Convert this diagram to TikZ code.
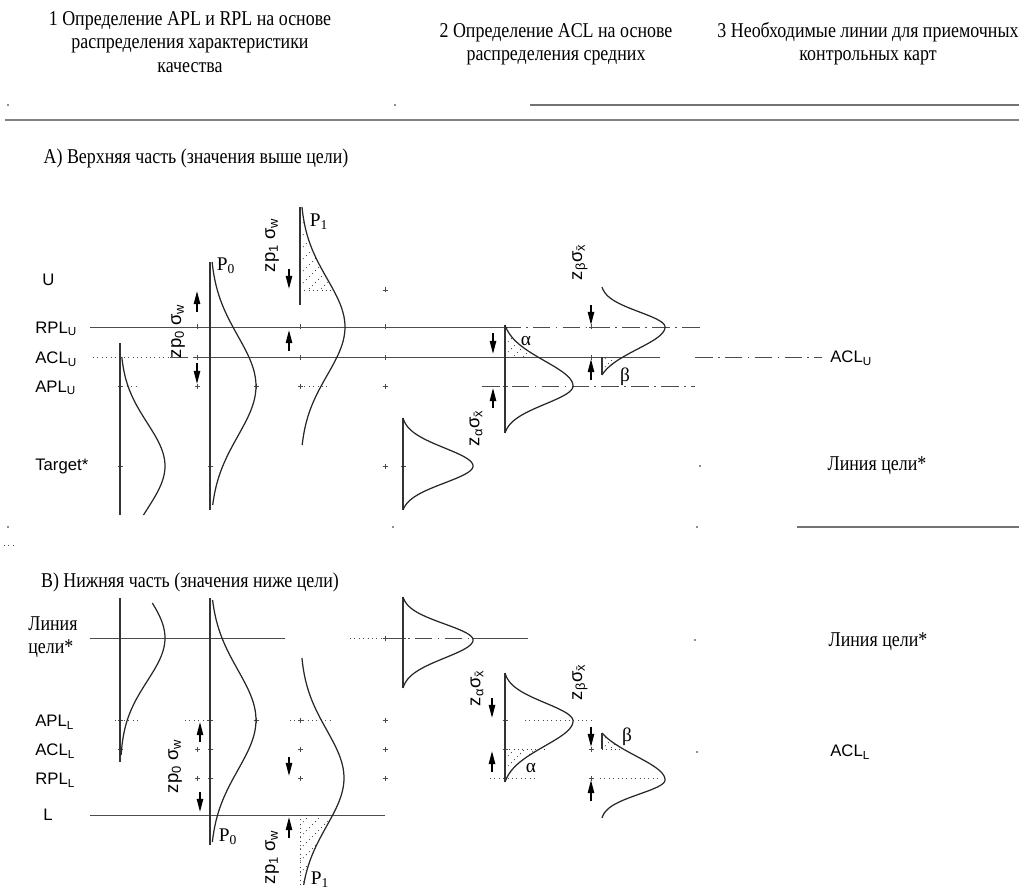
\documentclass[tikz,border=0pt]{standalone}
\usepackage{fontspec}
\setmainfont{Liberation Serif}
\setsansfont{Liberation Sans}
\newfontfamily\scanrm[FakeStretch=0.85]{Liberation Serif}
\usetikzlibrary{arrows.meta}

\begin{document}
\begin{tikzpicture}[x=0.02cm,y=-0.02cm,>=Stealth,samples=60,
  curve/.style={line width=0.7pt,black!85},
  axisline/.style={line width=0.6pt,black!80},
  level/.style={line width=0.5pt,black!70},
  dashdot/.style={level,dash pattern=on 10pt off 3pt on 1pt off 3pt},
  dotline/.style={level,dotted},
  hatch/.style={line width=0.45pt,dotted,black!75},
  dimarr/.style={-{Triangle[length=7.5pt,width=3.6pt]},line width=1pt},
  head/.style={font=\scanrm\fontsize{12}{13.2}\selectfont,align=center,inner sep=0pt},
  lab/.style={font=\sffamily\fontsize{9.5}{11}\selectfont,anchor=west,inner sep=0pt},
  rot/.style={font=\sffamily\fontsize{10.5}{12}\selectfont,rotate=90,inner sep=0pt},
  greek/.style={font=\fontsize{11}{12}\selectfont,inner sep=0pt},
  declare function={bell(\t,\m,\sg)=exp(-0.5*((\t-\m)/\sg)^2);
    tb(\t,\m,\sg,\dl)=(bell(\t,\m,\sg)-bell(\m+\dl,\m,\sg))/(1-bell(\m+\dl,\m,\sg));}]
\useasboundingbox (0,0) rectangle (1019,892);

\node[head] (colA) at (190,42) {1 Определение APL и RPL на основе\\распределения характеристики\\качества};
\node[head] (colB) at (556,44) {2 Определение ACL на основе\\распределения средних};
\node[head] (colC) at (868,44) {3 Необходимые линии для приемочных\\контрольных карт};
\coordinate (ruleAa) at (530,105);
\coordinate (ruleAb) at (1019,105);
\coordinate (ruleBa) at (5,120);
\coordinate (ruleBb) at (1019,120);
\draw[black!55,line width=0.6pt] (ruleAa) -- (ruleAb);
\draw[black!50,line width=1.3pt] (ruleBa) -- (ruleBb);
\foreach \px/\py in {8/105,395/105,8/527,393/527,697/527,700/466,695/640,697/752}
  \fill[black!60] (\px,\py) circle[radius=1.1];
\draw[dotline] (4,545) -- (14,545);
\coordinate (ruleCa) at (797,527);
\coordinate (ruleCb) at (1019,527);
\draw[black!55,line width=0.8pt] (ruleCa) -- (ruleCb);

\node[head] (secA) at (196,158) {А) Верхняя часть (значения выше цели)};
\node[head] (secB) at (190,582) {В) Нижняя часть (значения ниже цели)};

\node[lab] (labU) at (42,280) {U};
\node[lab] (labRPLu) at (35,329) {RPL\textsubscript{U}};
\node[lab] (labACLu) at (35,359) {ACL\textsubscript{U}};
\node[lab] (labAPLu) at (35,388) {APL\textsubscript{U}};
\node[lab] (labTgtU) at (35,466) {Target*};
\node[head,anchor=west,align=left] (labTgtL) at (28,637) {Линия\\цели*};
\node[lab] (labAPLl) at (35,722) {APL\textsubscript{L}};
\node[lab] (labACLl) at (35,751) {ACL\textsubscript{L}};
\node[lab] (labRPLl) at (35,780) {RPL\textsubscript{L}};
\node[lab] (labL) at (43,815) {L};
\node[lab] (rACLu) at (830,358) {ACL\textsubscript{U}};
\node[head] (rTgtU) at (877,466) {Линия цели*};
\node[head] (rTgtL) at (878,642) {Линия цели*};
\node[lab] (rACLl) at (830,752) {ACL\textsubscript{L}};

\coordinate (rplUa) at (90,327);
\coordinate (rplUb) at (503,327);
\coordinate (rplUc) at (700,327);
\draw[level] (rplUa) -- (rplUb);
\draw[dashdot] (rplUb) -- (rplUc);
\coordinate (aclUa) at (93,357);
\coordinate (aclUb) at (170,357);
\coordinate (aclUc) at (215,357);
\coordinate (aclUd) at (660,357);
\coordinate (aclUe) at (695,357);
\coordinate (aclUf) at (822,357);
\draw[dotline] (aclUa) -- (aclUb);
\draw[dashdot] (aclUb) -- (aclUc);
\draw[level] (aclUc) -- (aclUd);
\draw[dashdot] (aclUe) -- (aclUf);
\coordinate (aplUa) at (482,386);
\coordinate (aplUb) at (695,386);
\draw[dashdot] (aplUa) -- (aplUb);
\draw[dotline] (118,386) -- (137,386) (300,386) -- (330,386);

\coordinate (tgtLa) at (90,638);
\coordinate (tgtLb) at (285,638);
\coordinate (tgtLc) at (350,638);
\coordinate (tgtLd) at (385,638);
\coordinate (tgtLe) at (473,638);
\coordinate (tgtLf) at (528,638);
\draw[level] (tgtLa) -- (tgtLb);
\draw[dotline] (tgtLc) -- (tgtLd);
\draw[dashdot] (tgtLd) -- (tgtLe);
\draw[level] (tgtLe) -- (tgtLf);
\draw[dotline] (115,720) -- (137,720) (185,720) -- (215,720) (290,720) -- (330,720) (525,720) -- (592,720);
\draw[dotline] (490,778) -- (537,778) (600,778) -- (660,778);
\coordinate (lLa) at (90,815);
\coordinate (lLb) at (385,815);
\draw[level] (lLa) -- (lLb);

\foreach \px/\py in {197/327,197/357,197/386,210/327,210/357,210/466,120/386,120/466,256/386,
  300/327,300/357,300/386,385/290,385/327,385/357,385/386,385/466,403/466,505/357,505/386,591/327,591/357,
  120/638,120/720,120/749,197/749,197/778,210/638,210/720,210/749,210/778,256/720,
  300/720,300/749,300/778,385/638,385/720,385/749,385/778,403/638,505/720,505/749,591/749,591/778}
  \draw[level] (\px-2.5,\py) -- (\px+2.5,\py) (\px,\py-2.5) -- (\px,\py+2.5);

\draw[axisline] (120,343) -- (120,515);
\draw[curve] plot[domain=357:515] ({120+45*bell(\x,466,43)},\x);
\draw[axisline] (210,262) -- (210,510);
\draw[curve] plot[domain=262:505] ({210+46*bell(\x,386,50)},\x);
\draw[axisline] (300,207) -- (300,305);
\draw[curve] plot[domain=207:445] ({300+45*bell(\x,327,48)},\x);
\begin{scope}
\clip (300,207) -- plot[domain=207:290] ({300+45*bell(\x,327,48)},\x) -- (300,290) -- cycle;
\foreach \k in {226,238,...,346} \draw[hatch] (300,\k) -- ++(60,-60);
\end{scope}
\draw[hatch] (300,290) -- (333,290);
\draw[axisline] (403,418) -- (403,510);
\draw[curve] plot[domain=418:466] ({403+70*tb(\x,466,18,48)},\x) -- plot[domain=466:510] ({403+70*tb(\x,466,17,44)},\x);
\draw[axisline] (505,325) -- (505,433);
\draw[curve] plot[domain=325:386] ({505+68*tb(\x,386,25,61)},\x) -- plot[domain=386:433] ({505+68*tb(\x,386,18,47)},\x);
\begin{scope}
\clip (505,325) -- plot[domain=325:357] ({505+68*tb(\x,386,25,61)},\x) -- (505,357) -- cycle;
\foreach \k in {335,345,...,395} \draw[hatch] (505,\k) -- ++(40,-40);
\end{scope}
\draw[curve] plot[domain=287:327] ({602+63*tb(\x,327,15,40)},\x) -- plot[domain=327:375] ({602+63*tb(\x,327,22,48)},\x);
\draw[axisline] (602,357) -- (602,375);
\begin{scope}
\clip (602,357) -- plot[domain=357:375] ({602+63*tb(\x,327,22,48)},\x) -- cycle;
\foreach \k in {362,370,...,394} \draw[hatch] (602,\k) -- ++(30,-30);
\end{scope}

\draw[axisline] (120,598) -- (120,762);
\draw[curve] plot[domain=603:755] ({120+45*bell(\x,638,43)},\x);
\draw[axisline] (210,598) -- (210,845);
\draw[curve] plot[domain=600:842] ({210+46*bell(\x,720,50)},\x);
\draw[curve] plot[domain=658:885] ({300+44*bell(\x,778,48)},\x);
\begin{scope}
\clip (300,815) -- plot[domain=815:885] ({300+44*bell(\x,778,48)},\x) -- (300,885) -- cycle;
\foreach \k in {825,837,...,945} \draw[hatch] (300,\k) -- ++(60,-60);
\end{scope}
\draw[hatch] (300,815) -- (300,885);
\draw[axisline] (403,597) -- (403,688);
\draw[curve] plot[domain=597:640] ({403+70*tb(\x,640,16,43)},\x) -- plot[domain=640:688] ({403+70*tb(\x,640,18,48)},\x);
\draw[axisline] (505,673) -- (505,782);
\draw[curve] plot[domain=673:721] ({505+68*tb(\x,721,18,48)},\x) -- plot[domain=721:782] ({505+68*tb(\x,721,25,61)},\x);
\begin{scope}
\clip (505,749) -- plot[domain=749:782] ({505+68*tb(\x,721,25,61)},\x) -- cycle;
\foreach \k in {759,769,...,829} \draw[hatch] (505,\k) -- ++(40,-40);
\end{scope}
\draw[hatch] (505,749) -- (545,749);
\draw[curve] plot[domain=733:780] ({602+63*tb(\x,780,24,47)},\x) -- plot[domain=780:818] ({602+63*tb(\x,780,14,38)},\x);
\draw[axisline] (602,733) -- (602,749);
\begin{scope}
\clip (602,733) -- plot[domain=733:749] ({602+63*tb(\x,780,24,47)},\x) -- (602,749) -- cycle;
\foreach \k in {741,749,...,773} \draw[hatch] (602,\k) -- ++(30,-30);
\end{scope}
\draw[hatch] (602,749) -- (625,749);

\draw[dimarr] (197,312) -- (197,291);
\draw[dimarr] (197,363) -- (197,384);
\draw[dimarr] (289,269) -- (289,289);
\draw[dimarr] (289,351) -- (289,330);
\draw[dimarr] (493,333) -- (493,354);
\draw[dimarr] (493,408) -- (493,388);
\draw[dimarr] (591,305) -- (591,325);
\draw[dimarr] (591,380) -- (591,359);
\draw[dimarr] (200,742) -- (200,722);
\draw[dimarr] (200,792) -- (200,812);
\draw[dimarr] (289,757) -- (289,776);
\draw[dimarr] (289,838) -- (289,817);
\draw[dimarr] (492,698) -- (492,718);
\draw[dimarr] (492,772) -- (492,751);
\draw[dimarr] (591,727) -- (591,747);
\draw[dimarr] (591,801) -- (591,780);

\node[rot] (zpU0) at (178,331) {zp\textsubscript{0} σ\textsubscript{w}};
\node[rot] (zpU1) at (272,245) {zp\textsubscript{1} σ\textsubscript{w}};
\node[rot] (zaU) at (476,428) {z\textsubscript{α}σ\textsubscript{\={x}}};
\node[rot] (zbU) at (580,262) {z\textsubscript{β}σ\textsubscript{\={x}}};
\node[rot] (zpL0) at (175,766) {zp\textsubscript{0} σ\textsubscript{w}};
\node[rot] (zpL1) at (272,857) {zp\textsubscript{1} σ\textsubscript{w}};
\node[rot] (zaL) at (477,688) {z\textsubscript{α}σ\textsubscript{\={x}}};
\node[rot] (zbL) at (580,682) {z\textsubscript{β}σ\textsubscript{\={x}}};

\node[greek] (pU0) at (226,266) {P\textsubscript{0}};
\node[greek] (pU1) at (319,222) {P\textsubscript{1}};
\node[greek] (pL0) at (228,837) {P\textsubscript{0}};
\node[greek] (pL1) at (320,880) {P\textsubscript{1}};
\node[greek] (alU) at (526,341) {α};
\node[greek] (beU) at (625,377) {β};
\node[greek] (alL) at (531,768) {α};
\node[greek] (beL) at (627,737) {β};
\end{tikzpicture}
\end{document}
